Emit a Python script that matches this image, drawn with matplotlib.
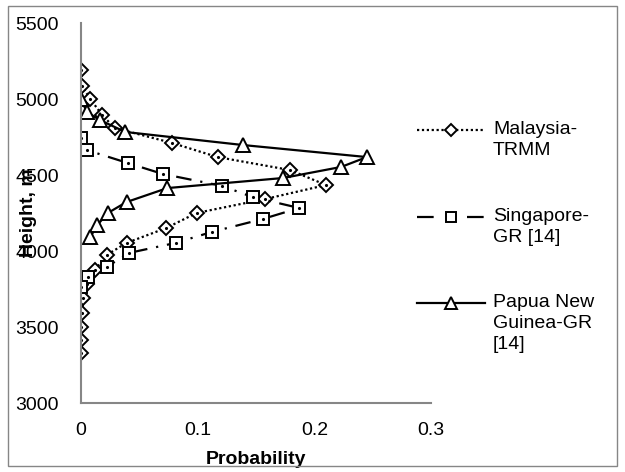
import matplotlib
matplotlib.use('Agg')
import matplotlib.pyplot as plt
from matplotlib.lines import Line2D
from matplotlib.patches import Rectangle

plt.rcParams['font.family'] = ['Liberation Sans', 'DejaVu Sans']

# Malaysia-TRMM
h_my = [5191, 5086, 5000, 4895, 4809, 4711, 4618, 4533, 4434, 4342, 4250,
        4151, 4053, 3974, 3875, 3780, 3690, 3590, 3500, 3415, 3330]
p_my = [0.0, 0.001, 0.008, 0.018, 0.029, 0.078, 0.117, 0.179, 0.21, 0.158, 0.099,
        0.073, 0.039, 0.022, 0.012, 0.005, 0.002, 0.001, 0.0, 0.0, 0.0]

# Singapore-GR [14]
h_sg = [4743, 4664, 4579, 4507, 4428, 4355, 4283, 4211, 4125, 4053, 3987, 3895, 3830, 3760]
p_sg = [0.0, 0.005, 0.040, 0.070, 0.121, 0.147, 0.187, 0.156, 0.112, 0.081, 0.041, 0.022, 0.006, 0.0]

# Papua New Guinea-GR [14]
h_png = [5000, 4914, 4862, 4783, 4697, 4618, 4553, 4480, 4414, 4322, 4250, 4171, 4092]
p_png = [0.0, 0.005, 0.016, 0.038, 0.139, 0.245, 0.223, 0.173, 0.074, 0.039, 0.023, 0.014, 0.008]

labels = ['Malaysia-\nTRMM', 'Singapore-\nGR [14]', 'Papua New\nGuinea-GR\n[14]']

fig = plt.figure(figsize=(6.25, 4.72), dpi=100)
ax = fig.add_axes([81/625, 1 - 403/472, 350/625, 380/472])

grey = '#868686'
fig.add_artist(Rectangle((8/625, 6/472), 609/625, 460/472, transform=fig.transFigure,
                         fill=False, edgecolor=grey, lw=1))

mk = dict(markerfacecolor='white', markeredgecolor='black', markeredgewidth=1.4)
st_my = dict(color='black', lw=1.6, linestyle=(0, (1, 1.2)), marker='D', markersize=7.5, **mk)
st_sg = dict(color='black', lw=1.6, linestyle=(0, (7, 4, 1, 4)), marker='s', markersize=9, **mk)
st_png = dict(color='black', lw=1.6, linestyle='-', marker='^', markersize=10, **mk)

ax.plot(p_my, h_my, **st_my)
ax.plot(p_my, h_my, 'k.', markersize=2.5)
ax.plot(p_sg, h_sg, **st_sg)
ax.plot(p_sg, h_sg, 'k.', markersize=2.5)
ax.plot(p_png, h_png, **st_png)

ax.set_xlim(0, 0.3)
ax.set_ylim(3000, 5500)
ax.set_xticks([0, 0.1, 0.2, 0.3])
ax.set_xticklabels(['0', '0.1', '0.2', '0.3'])
ax.set_yticks([3000, 3500, 4000, 4500, 5000, 5500])
ax.tick_params(length=0, labelsize=14)
ax.tick_params(axis='x', pad=14)
ax.tick_params(axis='y', pad=16)
for s in ['top', 'right']:
    ax.spines[s].set_visible(False)
for s in ['left', 'bottom']:
    ax.spines[s].set_color(grey)
    ax.spines[s].set_linewidth(1.5)

ax.set_xlabel('Probability', fontsize=14, fontweight='bold')
ax.xaxis.set_label_coords(0.5, -0.125)
ax.set_ylabel('Height, m', fontsize=14, fontweight='bold')
ax.yaxis.set_label_coords(-0.125, 0.5)

# legend, drawn by hand so the handle sits on the first text line
leg_styles = [(0, (1, 1.2)), (0, (7.5, 15, 7.5)), '-']
for i, (st, ls, lab) in enumerate(zip([st_my, st_sg, st_png], leg_styles, labels)):
    ypix = [130, 217, 303][i]
    yf = 1 - ypix / 472
    fig.add_artist(Line2D([417/625, 485/625], [yf, yf], transform=fig.transFigure,
                          color='black', lw=1.6, linestyle=ls))
    fig.add_artist(Line2D([451/625], [yf], transform=fig.transFigure, linestyle='none',
                          marker=st['marker'], markersize=st['markersize'] * 0.85, **mk))
    fig.text(493/625, yf + 9/472, lab, fontsize=14, va='top', ha='left', linespacing=1.3)

fig.savefig('out.png', dpi=100)
